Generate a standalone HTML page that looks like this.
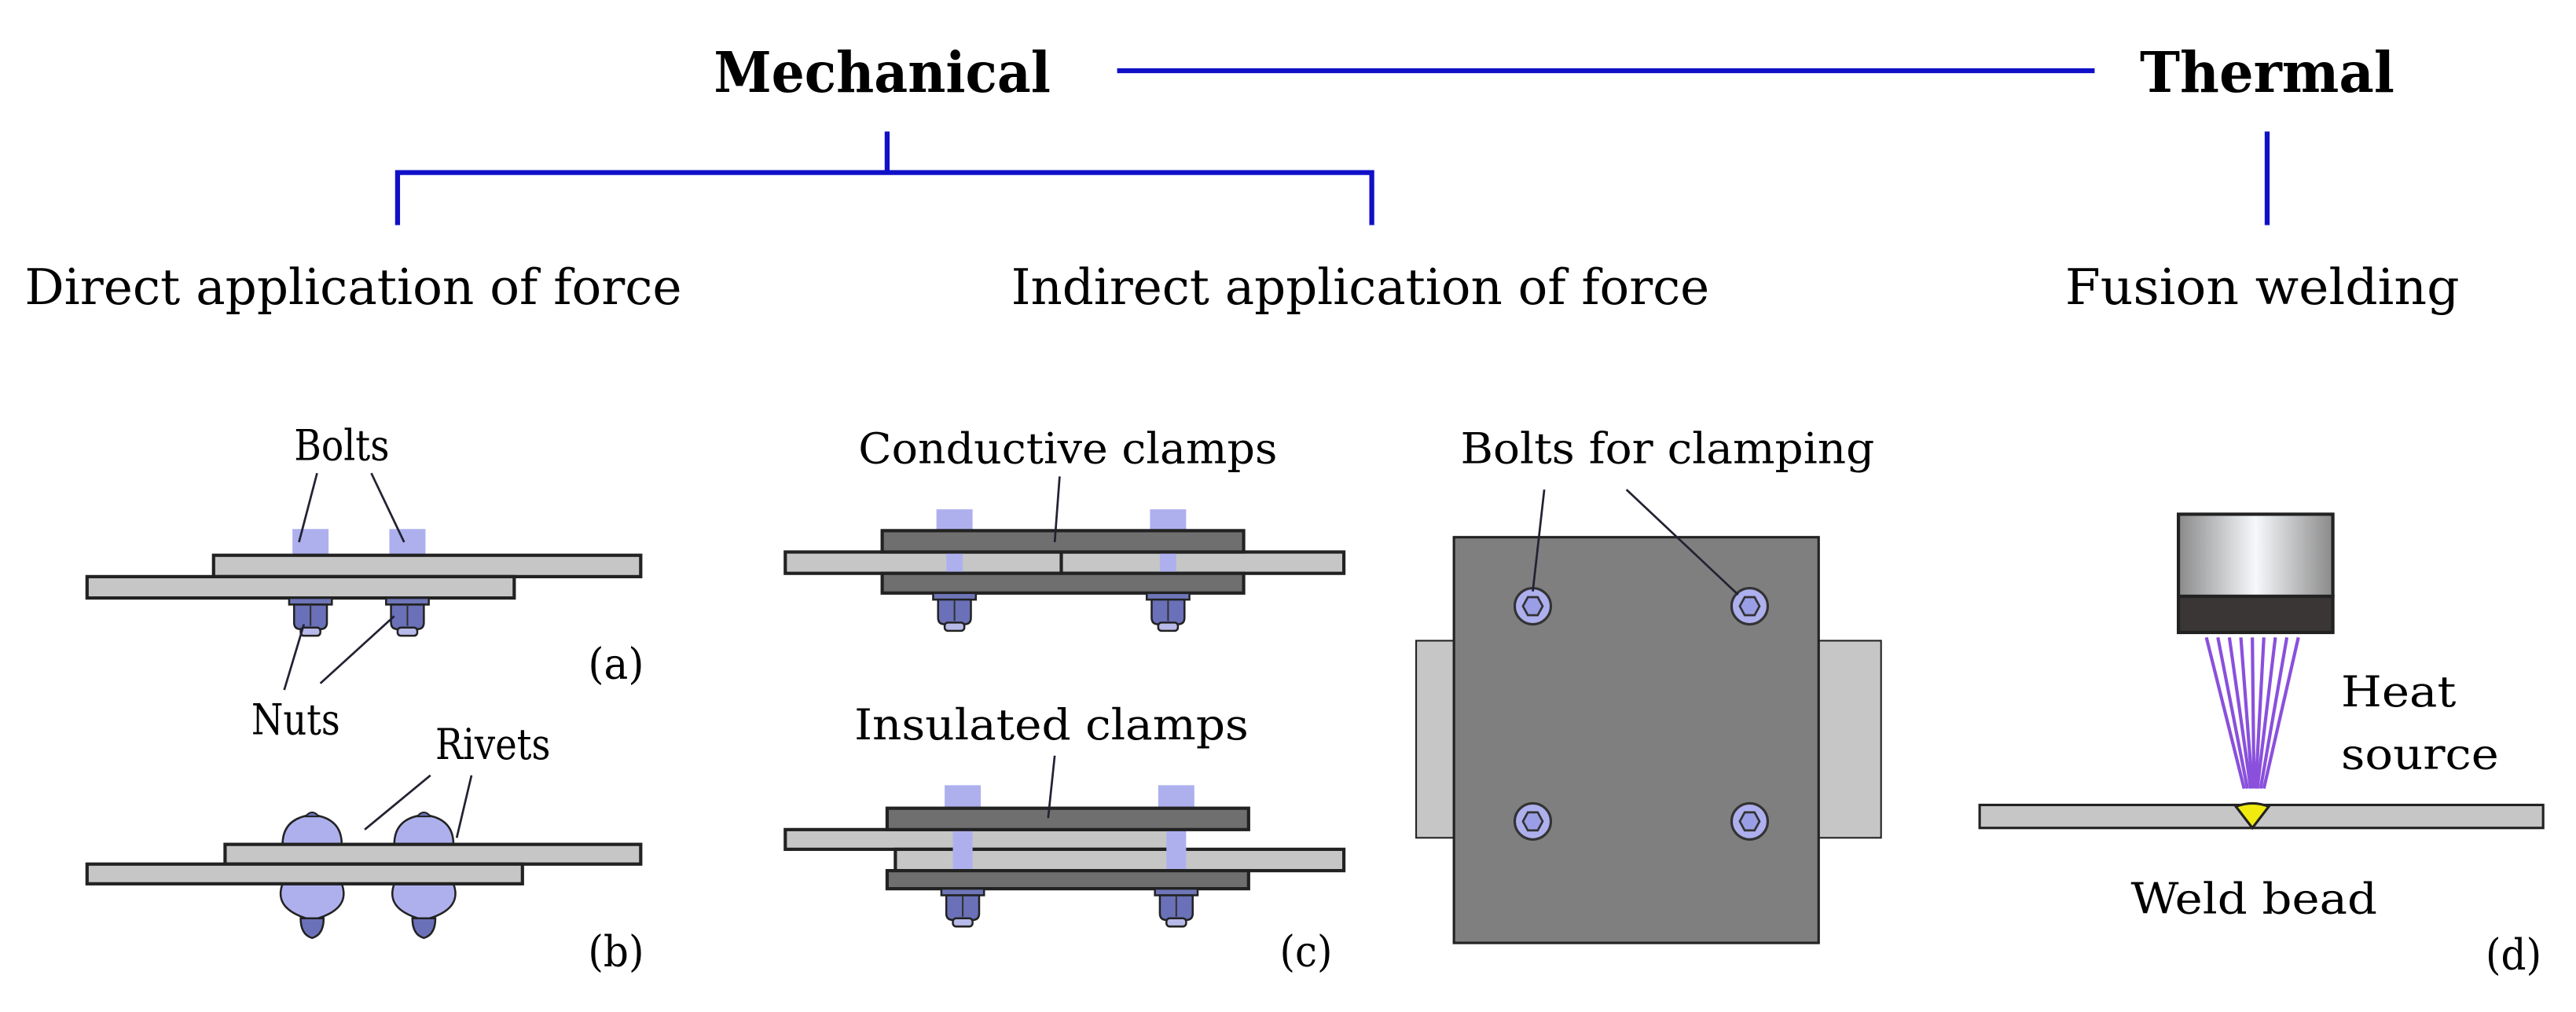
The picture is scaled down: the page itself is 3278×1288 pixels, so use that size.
<!DOCTYPE html>
<html><head><meta charset="utf-8"><style>html,body{margin:0;padding:0;background:#fff}svg{display:block}</style></head>
<body>
<svg width="3278" height="1288" viewBox="0 0 1568 616" xmlns="http://www.w3.org/2000/svg" font-family="DejaVu Serif, Liberation Serif, serif">
<defs>
<linearGradient id="cam" x1="0" x2="1"><stop offset="0" stop-color="#8a8a8a"/><stop offset="0.5" stop-color="#f6f8fb"/><stop offset="1" stop-color="#8a8a8a"/></linearGradient>
<g id="nut"><rect x="-13" y="0" width="26" height="4" fill="#6f76b8" stroke="#222" stroke-width="1.2"/><path d="M-10 4 h20 v11 q0 4 -4 4 h-12 q-4 0 -4 -4z" fill="#6a71b8" stroke="#222" stroke-width="1.2"/><line x1="0" y1="4" x2="0" y2="17" stroke="#333" stroke-width="1"/><rect x="-6" y="18" width="12" height="5" rx="2" fill="#b7b9e8" stroke="#222" stroke-width="1.2"/></g>
<g id="hb"><circle r="11" fill="#aeb0ee" stroke="#333" stroke-width="1.5"/><polygon points="-6,0 -3,-5.5 3,-5.5 6,0 3,5.5 -3,5.5" fill="#9a9ee6" stroke="#333" stroke-width="1.3"/></g>
</defs>
<text x="537" y="56" font-size="34" font-weight="bold" text-anchor="middle" textLength="205" lengthAdjust="spacingAndGlyphs">Mechanical</text>
<text x="1380" y="56" font-size="34" font-weight="bold" text-anchor="middle" textLength="155" lengthAdjust="spacingAndGlyphs">Thermal</text>
<g stroke="#1010c8" stroke-width="3" fill="none">
<line x1="680" y1="43" x2="1275" y2="43"/>
<line x1="540" y1="80" x2="540" y2="105"/>
<polyline points="242,137 242,105 835,105 835,137"/>
<line x1="1380" y1="80" x2="1380" y2="137"/>
</g>
<g font-size="30" text-anchor="middle">
<text x="215" y="185" textLength="400" lengthAdjust="spacingAndGlyphs">Direct application of force</text>
<text x="828" y="185" textLength="425" lengthAdjust="spacingAndGlyphs">Indirect application of force</text>
<text x="1377" y="185" textLength="240" lengthAdjust="spacingAndGlyphs">Fusion welding</text>
</g>

<g stroke="#222" stroke-width="2">
<rect x="178" y="322" width="22" height="16" fill="#aeb0ee" stroke-width="0"/>
<rect x="237" y="322" width="22" height="16" fill="#aeb0ee" stroke-width="0"/>
<rect x="130" y="338" width="260" height="13" fill="#c6c6c6"/>
<rect x="53" y="351" width="260" height="13" fill="#c6c6c6"/>
<use href="#nut" x="189" y="364"/><use href="#nut" x="248" y="364"/>
<path d="M172 514 q0 -16 18 -18 q18 2 18 18z M240 514 q0 -16 18 -18 q18 2 18 18z" fill="#aeb0ee" stroke-width="1.2"/>
<path d="M186 497 q4 -5 8 0z M254 497 q4 -5 8 0z" fill="#6a71b8" stroke-width="1"/>
<path d="M172 538 q-6 16 18 22 q24 -6 18 -22z M240 538 q-6 16 18 22 q24 -6 18 -22z" fill="#aeb0ee" stroke-width="1.2"/>
<path d="M183 559 h14 q0 10 -7 12 q-7 -2 -7 -12z M251 559 h14 q0 10 -7 12 q-7 -2 -7 -12z" fill="#6a71b8" stroke-width="1.2"/>
<rect x="137" y="514" width="253" height="12" fill="#c6c6c6"/>
<rect x="53" y="526" width="265" height="12" fill="#c6c6c6"/>
<rect x="570" y="310" width="22" height="13" fill="#aeb0ee" stroke-width="0"/>
<rect x="700" y="310" width="22" height="13" fill="#aeb0ee" stroke-width="0"/>
<rect x="478" y="336" width="340" height="13" fill="#c6c6c6"/>
<line x1="646" y1="336" x2="646" y2="349"/>
<rect x="576" y="336" width="10" height="13" fill="#aeb0ee" stroke-width="0"/>
<rect x="706" y="336" width="10" height="13" fill="#aeb0ee" stroke-width="0"/>
<rect x="537" y="323" width="220" height="13" fill="#6f6f6f"/>
<rect x="537" y="349" width="220" height="12" fill="#6f6f6f"/>
<use href="#nut" x="581" y="361"/><use href="#nut" x="711" y="361"/>
<rect x="575" y="478" width="22" height="14" fill="#aeb0ee" stroke-width="0"/>
<rect x="705" y="478" width="22" height="14" fill="#aeb0ee" stroke-width="0"/>
<rect x="478" y="505" width="240" height="12" fill="#c6c6c6"/>
<rect x="545" y="517" width="273" height="13" fill="#c6c6c6"/>
<rect x="580" y="505" width="12" height="25" fill="#aeb0ee" stroke-width="0"/>
<rect x="710" y="505" width="12" height="25" fill="#aeb0ee" stroke-width="0"/>
<rect x="540" y="492" width="220" height="13" fill="#6f6f6f"/>
<rect x="540" y="530" width="220" height="11" fill="#6f6f6f"/>
<use href="#nut" x="586" y="541"/><use href="#nut" x="716" y="541"/>
<rect x="862" y="390" width="283" height="120" fill="#c6c6c6" stroke-width="1"/>
<rect x="885" y="327" width="222" height="247" fill="#7f7f7f" stroke-width="1.5"/>
</g>
<use href="#hb" x="933" y="369"/><use href="#hb" x="1065" y="369"/><use href="#hb" x="933" y="500"/><use href="#hb" x="1065" y="500"/>
<g stroke="#223" stroke-width="1.3">
<line x1="193" y1="288" x2="182" y2="330"/><line x1="226" y1="288" x2="246" y2="330"/>
<line x1="173" y1="420" x2="185" y2="380"/><line x1="195" y1="416" x2="240" y2="375"/>
<line x1="262" y1="472" x2="222" y2="505"/><line x1="287" y1="472" x2="278" y2="510"/>
<line x1="645" y1="290" x2="642" y2="330"/>
<line x1="642" y1="460" x2="638" y2="498"/>
<line x1="940" y1="298" x2="933" y2="360"/><line x1="990" y1="298" x2="1058" y2="362"/>
</g>
<g font-size="26" text-anchor="middle">
<text x="208" y="280" textLength="58" lengthAdjust="spacingAndGlyphs">Bolts</text>
<text x="180" y="447" textLength="54" lengthAdjust="spacingAndGlyphs">Nuts</text>
<text x="300" y="462" textLength="70" lengthAdjust="spacingAndGlyphs">Rivets</text>
<text x="375" y="413" textLength="34" lengthAdjust="spacingAndGlyphs">(a)</text>
<text x="375" y="588" textLength="34" lengthAdjust="spacingAndGlyphs">(b)</text>
<text x="650" y="282" textLength="255" lengthAdjust="spacingAndGlyphs">Conductive clamps</text>
<text x="640" y="450" textLength="240" lengthAdjust="spacingAndGlyphs">Insulated clamps</text>
<text x="795" y="588" textLength="32" lengthAdjust="spacingAndGlyphs">(c)</text>
<text x="1015" y="282" textLength="252" lengthAdjust="spacingAndGlyphs">Bolts for clamping</text>
<text x="1372" y="556" textLength="150" lengthAdjust="spacingAndGlyphs">Weld bead</text>
<text x="1530" y="590" textLength="34" lengthAdjust="spacingAndGlyphs">(d)</text>
</g>
<text x="1425" y="430" font-size="26" textLength="70" lengthAdjust="spacingAndGlyphs">Heat</text>
<text x="1425" y="468" font-size="26" textLength="96" lengthAdjust="spacingAndGlyphs">source</text>
<g stroke="#8a50dc" stroke-width="2">
<line x1="1343" y1="388" x2="1366" y2="480"/><line x1="1350" y1="388" x2="1368" y2="480"/><line x1="1357" y1="388" x2="1370" y2="480"/><line x1="1364" y1="388" x2="1371" y2="480"/><line x1="1371" y1="388" x2="1372" y2="480"/><line x1="1378" y1="388" x2="1373" y2="480"/><line x1="1385" y1="388" x2="1374" y2="480"/><line x1="1392" y1="388" x2="1376" y2="480"/><line x1="1399" y1="388" x2="1378" y2="480"/>
</g>
<rect x="1326" y="313" width="94" height="50" fill="url(#cam)" stroke="#222" stroke-width="2"/>
<rect x="1326" y="363" width="94" height="22" fill="#3a3636" stroke="#222" stroke-width="2"/>
<rect x="1205" y="490" width="343" height="14" fill="#c6c6c6" stroke="#222" stroke-width="1.5"/>
<path d="M1361 491 q10 -4 20 0 l-10 13z" fill="#f0ea10" stroke="#222" stroke-width="1.5"/>
</svg>
</body></html>
